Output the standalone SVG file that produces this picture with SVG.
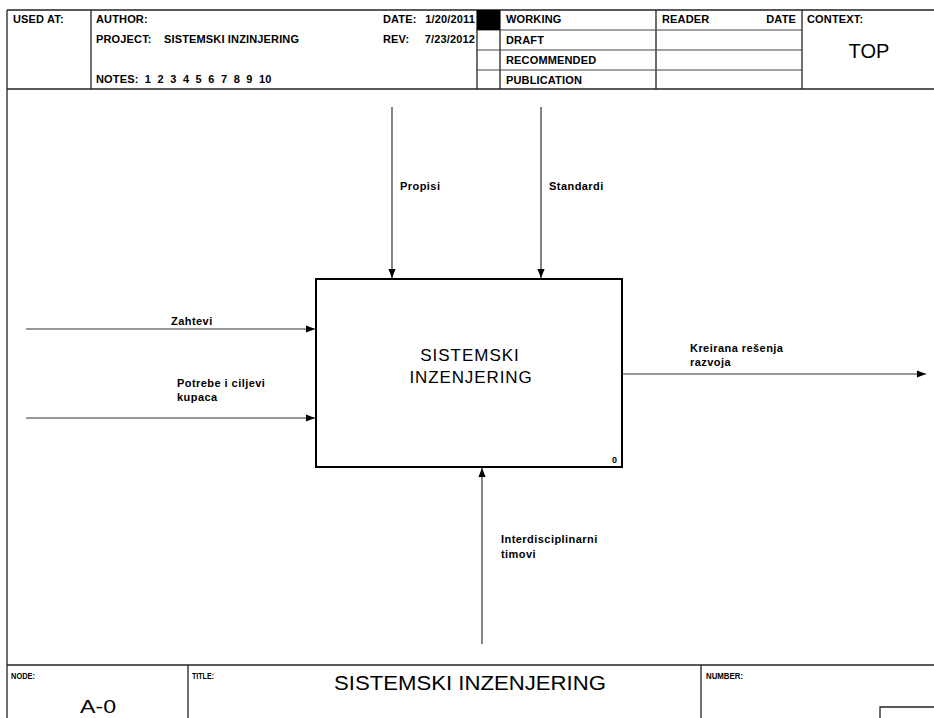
<svg xmlns="http://www.w3.org/2000/svg" width="934" height="718" viewBox="0 0 934 718">
  <style>
    text { font-family: "Liberation Sans", Arial, sans-serif; fill: #000; white-space: pre; }
    .hdr { font-size: 11px; font-weight: bold; letter-spacing: 0.15px; }
    .lbl { font-size: 11px; font-weight: bold; letter-spacing: 0.45px; }
    .frame { stroke: #222; stroke-width: 1.3; fill: none; }
    .thin { stroke: #444; stroke-width: 1; fill: none; }
    .arrow { stroke: #333; stroke-width: 1.2; fill: none; marker-end: url(#head); }
    .small { font-size: 9px; font-weight: bold; }
  </style>
  <defs>
    <marker id="head" viewBox="0 0 10 10" refX="10" refY="5" markerWidth="9" markerHeight="9" markerUnits="userSpaceOnUse" orient="auto">
      <path d="M0,1 L10,5 L0,9 Z" fill="#000"/>
    </marker>
  </defs>

  <!-- header block -->
  <g id="header">
    <line class="frame" x1="7" y1="10" x2="934" y2="10"/>
    <line class="frame" x1="7" y1="10" x2="7" y2="718"/>
    <line class="frame" x1="7" y1="89" x2="934" y2="89"/>
    <line class="frame" x1="91" y1="10" x2="91" y2="89"/>
    <line class="frame" x1="477" y1="10" x2="477" y2="89"/>
    <line class="frame" x1="500" y1="10" x2="500" y2="89"/>
    <line class="frame" x1="656" y1="10" x2="656" y2="89"/>
    <line class="frame" x1="802" y1="10" x2="802" y2="89"/>
    <line class="thin" x1="477" y1="30" x2="802" y2="30"/>
    <line class="thin" x1="477" y1="50" x2="802" y2="50"/>
    <line class="thin" x1="477" y1="70" x2="802" y2="70"/>
    <rect x="477" y="10" width="23" height="20" fill="#000"/>
    <text class="hdr" x="13" y="23">USED AT:</text>
    <text class="hdr" x="96" y="23">AUTHOR:</text>
    <text class="hdr" x="96" y="43">PROJECT:</text>
    <text class="hdr" x="164" y="43">SISTEMSKI INZINJERING</text>
    <text class="hdr" x="96" y="83">NOTES:  1  2  3  4  5  6  7  8  9  10</text>
    <text class="hdr" x="383" y="23">DATE:</text>
    <text class="hdr" x="475" y="23" text-anchor="end">1/20/2011</text>
    <text class="hdr" x="383" y="43">REV:</text>
    <text class="hdr" x="475" y="43" text-anchor="end">7/23/2012</text>
    <text class="hdr" x="506" y="23">WORKING</text>
    <text class="hdr" x="506" y="44">DRAFT</text>
    <text class="hdr" x="506" y="64">RECOMMENDED</text>
    <text class="hdr" x="506" y="84">PUBLICATION</text>
    <text class="hdr" x="662" y="23">READER</text>
    <text class="hdr" x="796" y="23" text-anchor="end">DATE</text>
    <text class="hdr" x="807" y="23">CONTEXT:</text>
    <text x="869" y="58" text-anchor="middle" font-size="20">TOP</text>
  </g>

  <!-- footer block -->
  <g id="footer">
    <line class="frame" x1="7" y1="665" x2="934" y2="665"/>
    <line class="frame" x1="188" y1="665" x2="188" y2="718"/>
    <line class="frame" x1="701" y1="665" x2="701" y2="718"/>
    <polyline class="frame" points="880,718 880,707 934,707"/>
    <text class="small" x="11" y="679" textLength="24" lengthAdjust="spacingAndGlyphs">NODE:</text>
    <text x="80" y="713" font-size="18" textLength="36" lengthAdjust="spacingAndGlyphs">A-0</text>
    <text class="small" x="192" y="679" textLength="22" lengthAdjust="spacingAndGlyphs">TITLE:</text>
    <text x="470" y="690" font-size="21" text-anchor="middle" textLength="272" lengthAdjust="spacingAndGlyphs">SISTEMSKI INZENJERING</text>
    <text class="small" x="706" y="679" textLength="37" lengthAdjust="spacingAndGlyphs">NUMBER:</text>
  </g>

  <!-- activity box -->
  <g id="A0">
    <rect x="316" y="279" width="306" height="188" fill="#fff" stroke="#000" stroke-width="2"/>
    <text x="470" y="361" font-size="17" text-anchor="middle" letter-spacing="1">SISTEMSKI</text>
    <text x="471" y="383" font-size="17" text-anchor="middle" letter-spacing="0.9">INZENJERING</text>
    <text class="small" x="612" y="463">0</text>
  </g>

  <!-- connectors -->
  <g id="connectors">
    <line class="arrow" x1="392" y1="107" x2="392" y2="278"/>
    <line class="arrow" x1="541" y1="107" x2="541" y2="278"/>
    <line class="arrow" x1="26" y1="329" x2="315" y2="329"/>
    <line class="arrow" x1="26" y1="418" x2="315" y2="418"/>
    <line class="arrow" x1="622" y1="374" x2="926" y2="374"/>
    <line class="arrow" x1="482" y1="644" x2="482" y2="468"/>
  </g>

  <!-- connector labels -->
  <g id="labels">
    <text class="lbl" x="400" y="190">Propisi</text>
    <text class="lbl" x="549" y="190">Standardi</text>
    <text class="lbl" x="171" y="325">Zahtevi</text>
    <text class="lbl" x="177" y="387">Potrebe i ciljevi</text>
    <text class="lbl" x="177" y="401">kupaca</text>
    <text class="lbl" x="690" y="352">Kreirana rešenja</text>
    <text class="lbl" x="690" y="366">razvoja</text>
    <text class="lbl" x="501" y="543">Interdisciplinarni</text>
    <text class="lbl" x="501" y="558">timovi</text>
  </g>
</svg>
